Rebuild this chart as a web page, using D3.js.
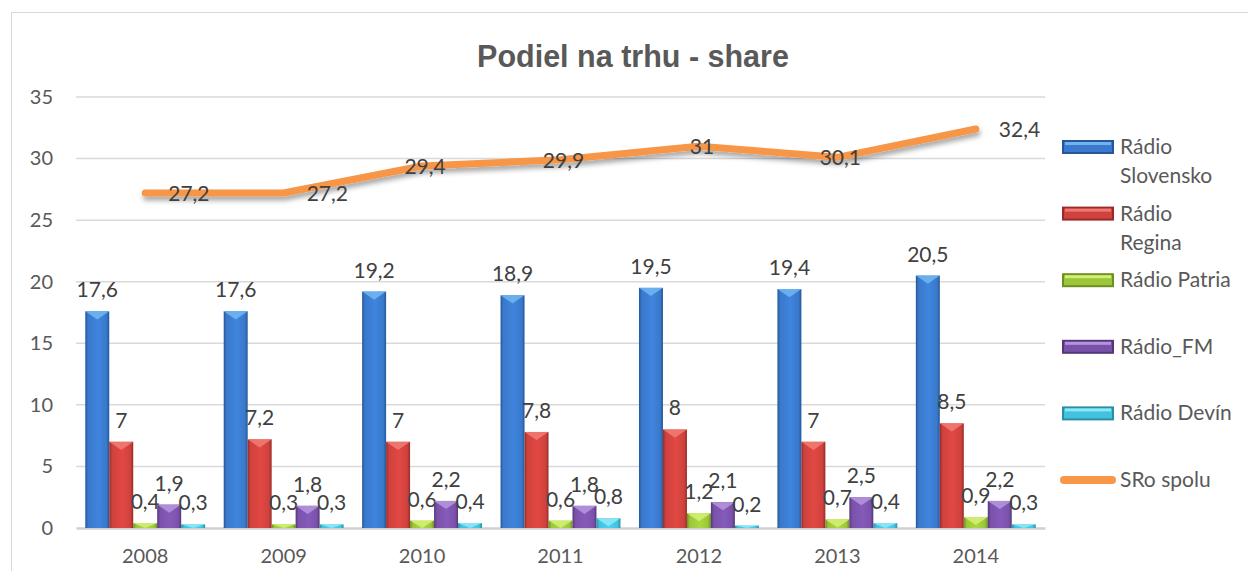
<!DOCTYPE html>
<html>
<head>
    <meta charset="utf-8">
    <title>Podiel na trhu - share</title>
    <script src="https://d3js.org/d3.v7.min.js"></script>
    <style>
        html, body {
            margin: 0;
            background: white;
            overflow: hidden;
        }
        text {
            font-family: Lato, "Open Sans", sans-serif;
        }
    </style>
</head>
<body>
    <svg id="svg"></svg>
    <script>
        // data
        const years = ["2008", "2009", "2010", "2011", "2012", "2013", "2014"];
        const barSeries = ["Rádio Slovensko", "Rádio Regina", "Rádio Patria", "Rádio_FM", "Rádio Devín"];
        const slovensko = [17.6, 17.6, 19.2, 18.9, 19.5, 19.4, 20.5];
        const regina = [7, 7.2, 7, 7.8, 8, 7, 8.5];
        const patria = [0.4, 0.3, 0.6, 0.6, 1.2, 0.7, 0.9];
        const radioFM = [1.9, 1.8, 2.2, 1.8, 2.1, 2.5, 2.2];
        const devin = [0.3, 0.3, 0.4, 0.8, 0.2, 0.4, 0.3];
        const lineName = "SRo spolu";
        const sroSpolu = [27.2, 27.2, 29.4, 29.9, 31, 30.1, 32.4];
        const yTicks = [0, 5, 10, 15, 20, 25, 30, 35];

        const barValues = [slovensko, regina, patria, radioFM, devin];
        // base, dark edge, light bevel
        const palette = [
            ["#3a79cb", "#24579a", "#6fb4f0"],
            ["#cf423d", "#972b28", "#f07a72"],
            ["#9cc63a", "#6f8f22", "#d2ee73"],
            ["#7a52aa", "#553779", "#b493dc"],
            ["#42c2de", "#2a8ea6", "#8fe6f6"]
        ];
        const lineColor = "#f79646";
        const lineLabelPos = ["right", "right", "center", "center", "center", "center", "right"];

        const width = 1248, height = 571;
        const plot = { left: 76, right: 1045, top: 97, bottom: 528 };

        const svg = d3.select("#svg")
            .attr("width", width)
            .attr("height", height);

        const defs = svg.append("defs");

        palette.forEach((c, i) => {
            const g = defs.append("linearGradient")
                .attr("id", `grad${i}`)
                .attr("x1", "0%").attr("x2", "100%")
                .attr("y1", "0%").attr("y2", "0%");
            g.append("stop").attr("offset", "0%").attr("stop-color", c[1]);
            g.append("stop").attr("offset", "12%").attr("stop-color", c[0]);
            g.append("stop").attr("offset", "55%").attr("stop-color", d3.color(c[0]).brighter(0.25));
            g.append("stop").attr("offset", "88%").attr("stop-color", c[0]);
            g.append("stop").attr("offset", "100%").attr("stop-color", c[1]);
        });

        const shadow = defs.append("filter")
            .attr("id", "shadow")
            .attr("x", "-10%").attr("y", "-50%")
            .attr("width", "120%").attr("height", "200%");
        shadow.append("feDropShadow")
            .attr("dx", 1).attr("dy", 4)
            .attr("stdDeviation", 2.5)
            .attr("flood-color", "#000")
            .attr("flood-opacity", 0.35);

        // outer chart frame
        svg.append("rect")
            .attr("x", 11.5).attr("y", 12.5)
            .attr("width", width).attr("height", height)
            .attr("fill", "none")
            .attr("stroke", "#d9d9d9");

        svg.append("text")
            .attr("x", 633)
            .attr("y", 67)
            .attr("text-anchor", "middle")
            .style("font-family", "'Liberation Sans', Arial, sans-serif")
            .style("font-weight", "bold")
            .style("font-size", "30.5px")
            .attr("fill", "#595959")
            .text("Podiel na trhu - share");

        const x0 = d3.scaleBand()
            .domain(years)
            .range([plot.left, plot.right]);

        const bw = x0.bandwidth();
        const x1 = d3.scaleBand()
            .domain(d3.range(barSeries.length))
            .range([bw * 0.067, bw * 0.933]);

        const y = d3.scaleLinear()
            .domain([0, 35])
            .range([plot.bottom, plot.top]);

        // gridlines
        svg.append("g")
            .selectAll("line")
            .data(yTicks.filter(t => t > 0))
            .join("line")
            .attr("x1", plot.left).attr("x2", plot.right)
            .attr("y1", d => y(d)).attr("y2", d => y(d))
            .attr("stroke", "#d9d9d9")
            .attr("stroke-width", 1.5);

        // y axis labels
        const yAxis = svg.append("g")
            .attr("transform", `translate(${plot.left - 23}, 0)`)
            .call(d3.axisLeft(y).tickValues(yTicks).tickSize(0).tickPadding(0));
        yAxis.select(".domain").remove();
        yAxis.selectAll("text")
            .style("font-family", "Lato, sans-serif")
            .style("font-size", "20px")
            .attr("fill", "#595959");

        // x axis
        const xAxis = svg.append("g")
            .attr("transform", `translate(0, ${plot.bottom})`)
            .call(d3.axisBottom(x0).tickSize(0).tickPadding(21));
        xAxis.select(".domain")
            .attr("stroke", "#d0d0d0")
            .attr("stroke-width", 2.5);
        xAxis.selectAll("text")
            .style("font-family", "Lato, sans-serif")
            .style("font-size", "20px")
            .attr("fill", "#595959");

        // bars
        const barData = [];
        years.forEach((yr, i) => {
            barValues.forEach((vals, s) => {
                barData.push({ year: yr, s: s, v: vals[i] });
            });
        });

        const barW = x1.bandwidth();
        const bars = svg.append("g").selectAll("g")
            .data(barData)
            .join("g")
            .attr("transform", d => `translate(${x0(d.year) + x1(d.s)}, 0)`);

        bars.append("rect")
            .attr("x", 0)
            .attr("y", d => y(d.v))
            .attr("width", barW)
            .attr("height", d => y(0) - y(d.v))
            .attr("fill", d => `url(#grad${d.s})`);

        bars.append("path")
            .attr("d", d => {
                const top = y(d.v);
                const h = Math.min(barW * 0.34, (y(0) - top));
                return `M0,${top} L${barW},${top} L${barW / 2},${top + h} Z`;
            })
            .attr("fill", d => palette[d.s][2])
            .attr("opacity", 0.9);

        bars.append("text")
            .attr("x", barW / 2)
            .attr("y", d => y(d.v) - 14)
            .attr("text-anchor", "middle")
            .style("font-size", "21px")
            .attr("fill", "#404040")
            .text(d => String(d.v).replace(".", ","));

        // total line
        const line = d3.line()
            .x((d, i) => x0(years[i]) + bw / 2)
            .y(d => y(d));

        svg.append("path")
            .datum(sroSpolu)
            .attr("d", line)
            .attr("fill", "none")
            .attr("stroke", lineColor)
            .attr("stroke-width", 7)
            .attr("stroke-linecap", "round")
            .attr("stroke-linejoin", "round")
            .attr("filter", "url(#shadow)");

        svg.append("g")
            .selectAll("text")
            .data(sroSpolu)
            .join("text")
            .attr("x", (d, i) => x0(years[i]) + bw / 2 + (lineLabelPos[i] === "right" ? 23 : 3))
            .attr("y", d => y(d) + 8)
            .attr("text-anchor", (d, i) => lineLabelPos[i] === "right" ? "start" : "middle")
            .style("font-size", "21px")
            .attr("fill", "#404040")
            .text(d => String(d).replace(".", ","));

        // legend
        const legendItems = barSeries.map((name, i) => ({ name, i, type: "bar" }))
            .concat([{ name: lineName, i: 5, type: "line" }]);
        const legend = svg.append("g")
            .selectAll("g")
            .data(legendItems)
            .join("g")
            .attr("transform", d => `translate(1062, ${147 + d.i * 66.6})`);

        legend.filter(d => d.type === "bar").each(function (d) {
            const g = d3.select(this);
            g.append("rect")
                .attr("x", 0).attr("y", -7)
                .attr("width", 52).attr("height", 14)
                .attr("fill", palette[d.i][1]);
            g.append("rect")
                .attr("x", 2).attr("y", -5)
                .attr("width", 48).attr("height", 10)
                .attr("fill", palette[d.i][0]);
            g.append("rect")
                .attr("x", 3).attr("y", -5)
                .attr("width", 46).attr("height", 3)
                .attr("fill", palette[d.i][2]);
        });

        legend.filter(d => d.type === "line")
            .append("line")
            .attr("x1", 2).attr("x2", 50)
            .attr("y1", 0).attr("y2", 0)
            .attr("stroke", lineColor)
            .attr("stroke-width", 8)
            .attr("stroke-linecap", "round");

        legend.append("text")
            .attr("x", 58)
            .attr("y", 7)
            .style("font-size", "21px")
            .attr("fill", "#595959")
            .each(function (d) {
                // the two long names wrap onto a second line
                const parts = d.i < 2 ? d.name.split(" ") : [d.name];
                d3.select(this).selectAll("tspan")
                    .data(parts)
                    .join("tspan")
                    .attr("x", 58)
                    .attr("dy", (p, k) => k === 0 ? 0 : 29)
                    .text(p => p);
            });
    </script>
</body>
</html>
